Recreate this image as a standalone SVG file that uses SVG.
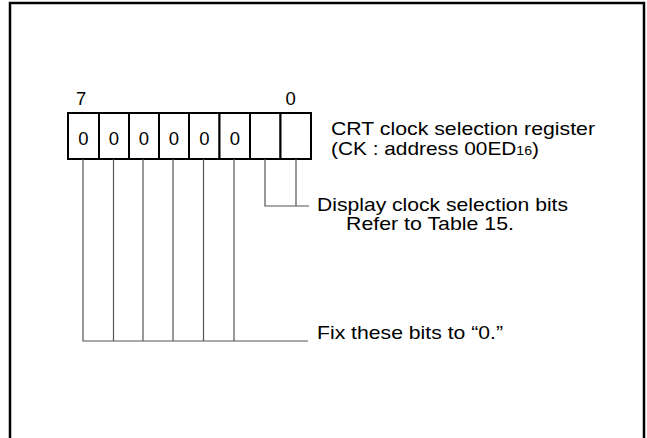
<svg xmlns="http://www.w3.org/2000/svg" width="647" height="438" viewBox="0 0 647 438">
<style>
text{font-family:"Liberation Sans",Arial,sans-serif;font-size:18.5px;fill:#000}
.cell{fill:#fff;stroke:#000;stroke-width:2}
.conn{fill:none;stroke:#555;stroke-width:1.2}
.d{text-anchor:middle}
</style>
<rect width="647" height="438" fill="#fff"/>
<path d="M10,438 V3 H644 V438" fill="none" stroke="#000" stroke-width="2.5"/>
<g id="register">
<rect class="cell" x="68" y="113" width="31" height="46"/>
<rect class="cell" x="99" y="113" width="30" height="46"/>
<rect class="cell" x="129" y="113" width="30" height="46"/>
<rect class="cell" x="159" y="113" width="30" height="46"/>
<rect class="cell" x="189" y="113" width="30.5" height="46"/>
<rect class="cell" x="219.5" y="113" width="30.5" height="46"/>
<rect class="cell" x="250" y="113" width="30.5" height="46"/>
<rect class="cell" x="280.5" y="113" width="30.5" height="46"/>
<text class="d" x="83.5" y="144.5">0</text>
<text class="d" x="114" y="144.5">0</text>
<text class="d" x="144" y="144.5">0</text>
<text class="d" x="174" y="144.5">0</text>
<text class="d" x="204.3" y="144.5">0</text>
<text class="d" x="234.8" y="144.5">0</text>
<text x="76" y="105">7</text>
<text x="285.5" y="105">0</text>
</g>
<g id="title">
<text x="331" y="135" textLength="264" lengthAdjust="spacingAndGlyphs">CRT clock selection register</text>
<text x="331" y="155" textLength="208" lengthAdjust="spacingAndGlyphs">(CK : address 00ED<tspan font-size="12.5">16</tspan>)</text>
</g>
<g id="connectors">
<path class="conn" d="M265,159 V206 H309 M296,159 V206"/>
<path class="conn" d="M83,159 V341 H308 M113.5,159 V341 M143,159 V341 M173,159 V341 M203.5,159 V341 M234,159 V341"/>
</g>
<g id="display-label">
<text x="317" y="211" textLength="251" lengthAdjust="spacingAndGlyphs">Display clock selection bits</text>
<text x="346" y="229.5" textLength="168" lengthAdjust="spacingAndGlyphs">Refer to Table 15.</text>
</g>
<g id="fix-label">
<text x="317" y="338.5" textLength="186" lengthAdjust="spacingAndGlyphs">Fix these bits to “0.”</text>
</g>
</svg>
